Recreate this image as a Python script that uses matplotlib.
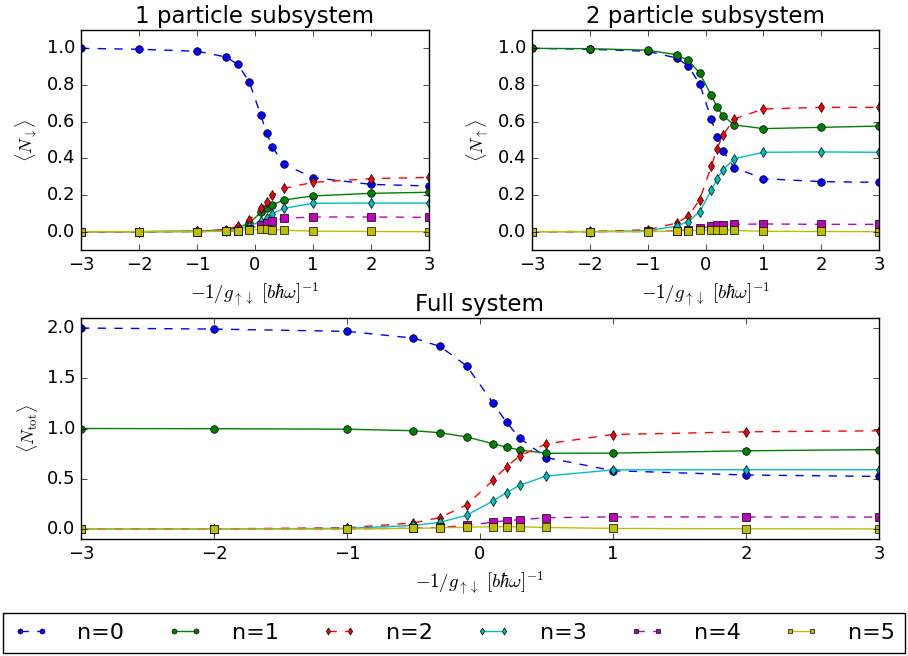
import matplotlib
matplotlib.use("Agg")
import matplotlib.pyplot as plt

plt.style.use("classic")

# interaction parameter -1/g
x = [-3, -2, -1, -0.5, -0.3, -0.1, 0.1, 0.2, 0.3, 0.5, 1, 2, 3]

# 1 particle subsystem occupations
sub1_n0 = [1.0, 0.995, 0.984, 0.953, 0.913, 0.818, 0.636, 0.538, 0.462, 0.367, 0.295, 0.258, 0.249]
sub1_n1 = [0.0, 0.0, 0.003, 0.010, 0.020, 0.047, 0.105, 0.129, 0.147, 0.173, 0.195, 0.209, 0.215]
sub1_n2 = [0.0, 0.0, 0.002, 0.011, 0.030, 0.062, 0.129, 0.164, 0.198, 0.236, 0.269, 0.289, 0.296]
sub1_n3 = [0.0, 0.0, 0.001, 0.005, 0.010, 0.030, 0.056, 0.075, 0.098, 0.127, 0.155, 0.156, 0.156]
sub1_n4 = [0.0, 0.0, 0.0, 0.002, 0.005, 0.015, 0.038, 0.049, 0.056, 0.073, 0.080, 0.080, 0.078]
sub1_n5 = [0.0, 0.0, 0.0, 0.003, 0.006, 0.010, 0.012, 0.012, 0.011, 0.008, 0.003, 0.001, 0.0]

# 2 particle subsystem occupations
sub2_n0 = [1.0, 0.995, 0.984, 0.947, 0.905, 0.805, 0.615, 0.518, 0.440, 0.349, 0.289, 0.273, 0.269]
sub2_n1 = [1.0, 0.998, 0.990, 0.965, 0.935, 0.865, 0.744, 0.680, 0.633, 0.582, 0.562, 0.569, 0.576]
sub2_n2 = [0.0, 0.001, 0.010, 0.047, 0.084, 0.175, 0.356, 0.453, 0.527, 0.615, 0.669, 0.678, 0.678]
sub2_n3 = [0.0, 0.0, 0.005, 0.030, 0.055, 0.109, 0.227, 0.287, 0.336, 0.398, 0.433, 0.435, 0.433]
sub2_n4 = [0.0, 0.0, 0.001, 0.005, 0.010, 0.018, 0.030, 0.035, 0.036, 0.040, 0.042, 0.040, 0.040]
sub2_n5 = [0.0, 0.0, 0.0, 0.003, 0.005, 0.008, 0.010, 0.010, 0.010, 0.007, 0.002, 0.001, 0.0]

# full system occupations
full_n0 = [2.0, 1.990, 1.967, 1.900, 1.817, 1.623, 1.250, 1.060, 0.903, 0.710, 0.580, 0.537, 0.523]
full_n1 = [1.0, 0.998, 0.993, 0.978, 0.958, 0.916, 0.848, 0.815, 0.785, 0.753, 0.755, 0.778, 0.790]
full_n2 = [0.0, 0.001, 0.012, 0.060, 0.113, 0.240, 0.487, 0.620, 0.728, 0.848, 0.940, 0.967, 0.977]
full_n3 = [0.0, 0.0, 0.006, 0.035, 0.066, 0.137, 0.280, 0.362, 0.436, 0.527, 0.588, 0.590, 0.590]
full_n4 = [0.0, 0.0, 0.001, 0.007, 0.015, 0.035, 0.068, 0.083, 0.092, 0.112, 0.120, 0.119, 0.118]
full_n5 = [0.0, 0.0, 0.0, 0.006, 0.011, 0.018, 0.022, 0.022, 0.021, 0.015, 0.005, 0.002, 0.0]

labels = ["n=0", "n=1", "n=2", "n=3", "n=4", "n=5"]
styles = ["bo--", "go-", "rd--", "cd-", "ms--", "ys-"]

xlabel = r"$-1/g_{\uparrow\downarrow}\ [b\hbar\omega]^{-1}$"

W, H = 908, 656
fig = plt.figure(figsize=(W / 100, H / 100), dpi=100, facecolor="white")


def box(l, t, r, b):
    return [l / W, 1 - b / H, (r - l) / W, (b - t) / H]


ax1 = fig.add_axes(box(81, 30, 429, 250))
ax2 = fig.add_axes(box(532, 30, 879, 250))
ax3 = fig.add_axes(box(81, 318, 879, 539))

panels = [
    (ax1, [sub1_n0, sub1_n1, sub1_n2, sub1_n3, sub1_n4, sub1_n5],
     "1 particle subsystem", r"$\langle N_{\downarrow}\rangle$", (-0.1, 1.1)),
    (ax2, [sub2_n0, sub2_n1, sub2_n2, sub2_n3, sub2_n4, sub2_n5],
     "2 particle subsystem", r"$\langle N_{\uparrow}\rangle$", (-0.1, 1.1)),
    (ax3, [full_n0, full_n1, full_n2, full_n3, full_n4, full_n5],
     "Full system", r"$\langle N_{\rm tot}\rangle$", (-0.1, 2.1)),
]

handles = []
for ax, series, title, ylab, ylim in panels:
    hs = []
    for ys, st, lab in zip(series, styles, labels):
        h, = ax.plot(x, ys, st, label=lab, markersize=5.5, lw=1.0)
        hs.append(h)
    handles = hs
    ax.set_xlim(-3, 3)
    ax.set_ylim(*ylim)
    ax.set_title(title, fontsize=16.5)
    ax.set_ylabel(ylab, fontsize=13)
    ax.set_xlabel(xlabel, fontsize=13.5)
    ax.tick_params(labelsize=13)

ax3.set_yticks([0.0, 0.5, 1.0, 1.5, 2.0])

fig.legend(handles, labels, loc="lower left", ncol=6, mode="expand",
           bbox_to_anchor=(3 / W, 1 - 653 / H, 902 / W, 37 / H),
           fontsize=16, numpoints=2, markerscale=0.65, borderaxespad=0.0,
           borderpad=0.45, handlelength=1.6, handletextpad=1.3,
           frameon=True, fancybox=False)

fig.savefig("out.png", dpi=100, facecolor="white")
